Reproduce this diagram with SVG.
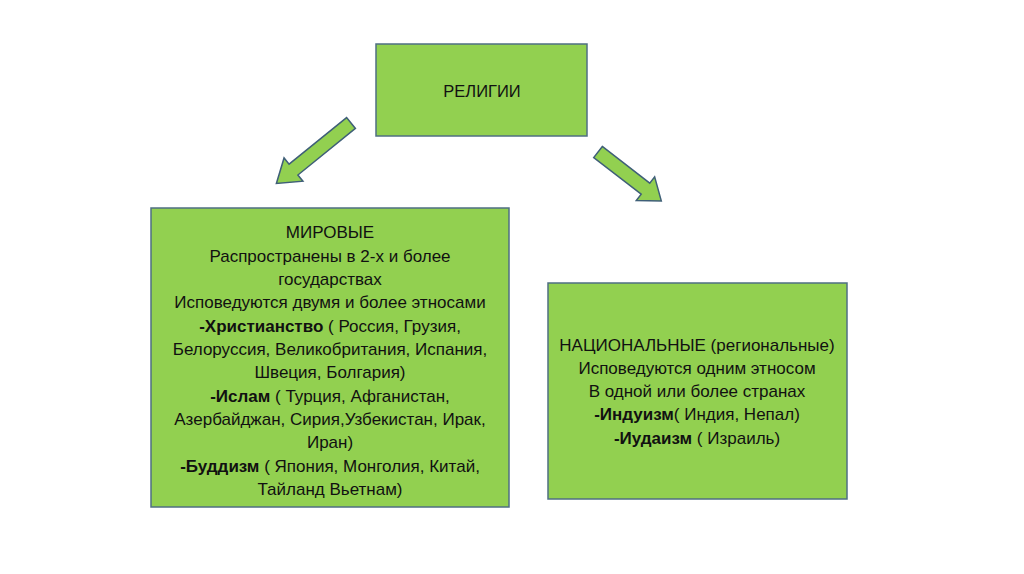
<svg xmlns="http://www.w3.org/2000/svg" width="1024" height="574" viewBox="0 0 1024 574">
<style>
.box{fill:#92d050;stroke:#4f6f82;stroke-width:1.5}
.arr{fill:#92d050;stroke:#3f5f78;stroke-width:1.5;stroke-linejoin:miter}
text{font-family:"Liberation Sans",Arial,sans-serif;font-size:17px;fill:#111;text-anchor:middle}
.b{font-weight:bold}
</style>
<rect width="1024" height="574" fill="#ffffff"/>
<g id="connectors">
<polygon class="arr" transform="translate(351,123) rotate(141)" points="0,-7 74,-7 74,-15 96,0 74,15 74,7 0,7"/>
<polygon class="arr" transform="translate(598,152) rotate(37.7)" points="0,-7 60,-7 60,-15 80,0 60,15 60,7 0,7"/>
</g>
<g id="religii">
<rect class="box" x="376" y="44" width="211" height="92"/>
<text x="482" y="97" style="font-size:16.5px">РЕЛИГИИ</text>
</g>
<g id="mirovye">
<rect class="box" x="151" y="208" width="358" height="299"/>
<text x="330" y="238">МИРОВЫЕ</text>
<text x="330" y="262">Распространены в 2-х и более</text>
<text x="330" y="285">государствах</text>
<text x="330" y="308">Исповедуются двумя и более этносами</text>
<text x="330" y="332"><tspan class="b">-Христианство</tspan> ( Россия, Грузия,</text>
<text x="330" y="355">Белоруссия, Великобритания, Испания,</text>
<text x="330" y="378">Швеция, Болгария)</text>
<text x="330" y="402"><tspan class="b">-Ислам</tspan> ( Турция, Афганистан,</text>
<text x="330" y="425">Азербайджан, Сирия,Узбекистан, Ирак,</text>
<text x="330" y="448">Иран)</text>
<text x="330" y="472"><tspan class="b">-Буддизм</tspan> ( Япония, Монголия, Китай,</text>
<text x="330" y="495">Тайланд Вьетнам)</text>
</g>
<g id="nacionalnye">
<rect class="box" x="548" y="283" width="299" height="216"/>
<text x="697" y="351">НАЦИОНАЛЬНЫЕ (региональные)</text>
<text x="697" y="374">Исповедуются одним этносом</text>
<text x="697" y="397">В одной или более странах</text>
<text x="697" y="420"><tspan class="b">-Индуизм</tspan>( Индия, Непал)</text>
<text x="697" y="444"><tspan class="b">-Иудаизм</tspan> ( Израиль)</text>
</g>
</svg>
